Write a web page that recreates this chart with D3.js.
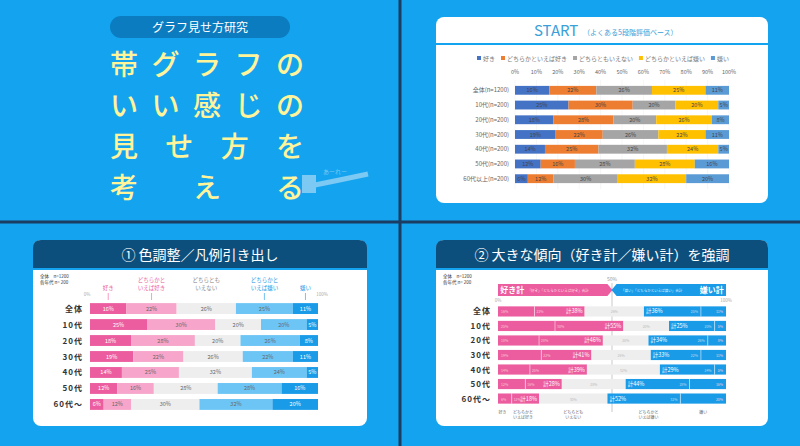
<!DOCTYPE html>
<html><head><meta charset="utf-8">
<script src="https://cdn.jsdelivr.net/npm/d3@7"></script>
<style>body{margin:0;background:#14a3ef}svg{display:block}text{font-family:"Noto Sans CJK JP",sans-serif}</style>
</head><body><svg id="c" width="800" height="446"></svg>
<script>
const categories = ["全体(n=1200)", "10代(n=200)", "20代(n=200)", "30代(n=200)", "40代(n=200)", "50代(n=200)", "60代以上(n=200)"];
const shortCats = ["全体", "10代", "20代", "30代", "40代", "50代", "60代～"];
const seriesNames = ["好き", "どちらかといえば好き", "どちらともいえない", "どちらかといえば嫌い", "嫌い"];
const values = [
  [16, 22, 26, 25, 11],
  [25, 30, 20, 20, 5],
  [18, 28, 20, 26, 8],
  [19, 22, 26, 22, 11],
  [14, 25, 32, 24, 5],
  [12, 16, 28, 28, 16],
  [6, 12, 30, 32, 20]
];
const ticks = [0, 10, 20, 30, 40, 50, 60, 70, 80, 90, 100];
const footAt = [2, 11, 33, 66, 90];

const svg = d3.select("#c");
const navy = "#0d4f7c";
svg.append("rect").attr("width", 800).attr("height", 446).attr("fill", "#14a3ef");
svg.append("line").attr("x1", 400).attr("x2", 400).attr("y1", 0).attr("y2", 446).attr("stroke", "#1b3d63").attr("stroke-width", 3);
svg.append("line").attr("x1", 0).attr("x2", 800).attr("y1", 222).attr("y2", 222).attr("stroke", "#1b3d63").attr("stroke-width", 3);

const stackRows = values.map(v => { let s = 0; return v.map(d => { const r = [s, s + d]; s += d; return r; }); });

// ---- top-left title
const tl = svg.append("g");
tl.append("rect").attr("x", 110).attr("y", 16).attr("width", 180).attr("height", 22).attr("rx", 11).attr("fill", "#0b7cc0");
tl.append("text").attr("x", 200).attr("y", 32).attr("text-anchor", "middle").attr("fill", "#fff").attr("font-size", 12).text("グラフ見せ方研究");
const titleLines = ["帯グラフの", "いい感じの", "見せ方を", "考える"];
const spacing = [[0, 1, 2, 3, 4], [0, 1, 2, 3, 4], [0, 1.33, 2.67, 4], [0, 2, 4]];
titleLines.forEach((l, i) => {
  [...l].forEach((ch, j) => {
    tl.append("text").attr("x", 124 + spacing[i][j] * 41.5).attr("y", 75 + i * 41)
      .attr("text-anchor", "middle").attr("fill", "#fff49a").attr("font-size", 28).attr("font-weight", 500).text(ch);
  });
});
tl.append("path").attr("d", "M310,186 q30,-6 58,-12").attr("stroke", "#7cc9f3").attr("stroke-width", 5).attr("fill", "none");
tl.append("rect").attr("x", 302).attr("y", 175).attr("width", 14).attr("height", 18).attr("fill", "#7cc9f3");
tl.append("text").attr("x", 323).attr("y", 174).attr("fill", "#7cc9f3").attr("font-size", 6).text("あーれー");

// ---- card helper
function card(x, y, w, h, title, dark) {
  const g = svg.append("g");
  g.append("rect").attr("x", x).attr("y", y).attr("width", w).attr("height", h).attr("rx", 8).attr("fill", "#fff");
  if (dark) {
    g.append("path").attr("d", `M${x},${y + 28} v-20 q0,-8 8,-8 h${w - 16} q8,0 8,8 v20 z`).attr("fill", navy);
    g.append("text").attr("x", x + w / 2).attr("y", y + 20).attr("text-anchor", "middle").attr("fill", "#fff").attr("font-size", 14).text(title);
    g.append("rect").attr("x", x).attr("y", y + 28).attr("width", w).attr("height", 2).attr("fill", "#14a3ef");
  }
  return g;
}

// ---- top-right START
const tr = card(436, 17, 332, 186, "", false);
tr.append("text").attr("x", 534).attr("y", 36).attr("fill", "#3aa0d8").attr("font-size", 15).text("START");
tr.append("text").attr("x", 583).attr("y", 35).attr("fill", "#3aa0d8").attr("font-size", 7).text("（よくある5段階評価ベース）");
tr.append("rect").attr("x", 436).attr("y", 43).attr("width", 332).attr("height", 2).attr("fill", "#14a3ef");
const cTR = ["#4472c4", "#ed7d31", "#a5a5a5", "#ffc000", "#5b9bd5"];
const xTR = d3.scaleLinear().domain([0, 100]).range([515, 729]);
const yTR = d3.scaleBand().domain(categories).range([80, 189]).padding(0.4);
let lx = 477;
seriesNames.forEach((n, i) => {
  tr.append("rect").attr("x", lx).attr("y", 56).attr("width", 4).attr("height", 4).attr("fill", cTR[i]);
  const t = tr.append("text").attr("x", lx + 6).attr("y", 61).attr("font-size", 6).attr("fill", "#777").text(n);
  lx += t.node().getComputedTextLength() + 12;
});
tr.append("g").selectAll("text").data(ticks).join("text").attr("x", d => xTR(d)).attr("y", 74)
  .attr("text-anchor", "middle").attr("font-size", 5.5).attr("fill", "#666").text(d => d + "%");
tr.append("g").selectAll("line").data(ticks).join("line").attr("x1", d => xTR(d)).attr("x2", d => xTR(d))
  .attr("y1", 80).attr("y2", 189).attr("stroke", "#eee").attr("stroke-width", 0.5);
categories.forEach((c, r) => {
  tr.append("text").attr("x", 509).attr("y", yTR(c) + yTR.bandwidth() / 2 + 2).attr("text-anchor", "end")
    .attr("font-size", 6).attr("fill", "#666").text(c);
  stackRows[r].forEach((s, i) => {
    tr.append("rect").attr("x", xTR(s[0])).attr("y", yTR(c)).attr("width", xTR(s[1]) - xTR(s[0])).attr("height", yTR.bandwidth()).attr("fill", cTR[i]);
    tr.append("text").attr("x", (xTR(s[0]) + xTR(s[1])) / 2).attr("y", yTR(c) + yTR.bandwidth() / 2 + 2)
      .attr("text-anchor", "middle").attr("font-size", 5.5).attr("fill", "#444").text(values[r][i] + "%");
  });
});

// ---- bottom-left
const cBL = ["#ec5d9f", "#f7a5ca", "#eeeeee", "#6dc5f6", "#1a9be8"];
const lblCol = ["#ec5d9f", "#ec5d9f", "#888", "#1a9be8", "#1a9be8"];
const bl = card(33, 240, 334, 186, "① 色調整／凡例引き出し", true);
const xBL = d3.scaleLinear().domain([0, 100]).range([90, 318]);
const yBL = d3.scaleBand().domain(shortCats).range([298, 415]).padding(0.32);
bl.append("text").attr("x", 40).attr("y", 278).attr("font-size", 4.5).attr("fill", "#333").text("全体　n=1200");
bl.append("text").attr("x", 40).attr("y", 284).attr("font-size", 4.5).attr("fill", "#333").text("各年代 n= 200");
bl.append("text").attr("x", 87).attr("y", 296).attr("text-anchor", "middle").attr("font-size", 4.5).attr("fill", "#aaa").text("0%");
bl.append("text").attr("x", 322).attr("y", 296).attr("text-anchor", "middle").attr("font-size", 4.5).attr("fill", "#aaa").text("100%");
const blLabels = [["好き"], ["どちらかと", "いえば好き"], ["どちらとも", "いえない"], ["どちらかと", "いえば嫌い"], ["嫌い"]];
stackRows[0].forEach((s, i) => {
  const cx = (xBL(s[0]) + xBL(s[1])) / 2;
  const lines = blLabels[i];
  lines.forEach((l, k) => bl.append("text").attr("x", cx).attr("y", 290 - (lines.length - 1 - k) * 8)
    .attr("text-anchor", "middle").attr("font-size", 5.5).attr("fill", lblCol[i]).text(l));
  if (i !== 2) bl.append("line").attr("x1", cx).attr("x2", cx).attr("y1", 293).attr("y2", 300).attr("stroke", lblCol[i]).attr("stroke-width", 0.6);
});
shortCats.forEach((c, r) => {
  bl.append("text").attr("x", 83).attr("y", yBL(c) + yBL.bandwidth() / 2 + 3).attr("text-anchor", "end")
    .attr("font-size", 8).attr("font-weight", 700).attr("fill", "#333").attr("letter-spacing", 1).text(c);
  stackRows[r].forEach((s, i) => {
    bl.append("rect").attr("x", xBL(s[0])).attr("y", yBL(c)).attr("width", xBL(s[1]) - xBL(s[0])).attr("height", yBL.bandwidth()).attr("fill", cBL[i]);
    bl.append("text").attr("x", (xBL(s[0]) + xBL(s[1])) / 2).attr("y", yBL(c) + yBL.bandwidth() / 2 + 2)
      .attr("text-anchor", "middle").attr("font-size", 5.5).attr("fill", i === 0 || i === 4 ? "#fff" : "#666").text(values[r][i] + "%");
  });
});

// ---- bottom-right
const cBR = ["#ec5d9f", "#ec5d9f", "#eeeeee", "#1a9be8", "#1a9be8"];
const br = card(436, 240, 332, 186, "② 大きな傾向（好き計／嫌い計）を強調", true);
const xBR = d3.scaleLinear().domain([0, 100]).range([498, 726]);
const yBR = d3.scaleBand().domain(shortCats).range([302, 408]).padding(0.3);
br.append("text").attr("x", 443).attr("y", 278).attr("font-size", 4.5).attr("fill", "#333").text("全体　n=1200");
br.append("text").attr("x", 443).attr("y", 284).attr("font-size", 4.5).attr("fill", "#333").text("各年代 n= 200");
br.append("line").attr("x1", xBR(50)).attr("x2", xBR(50)).attr("y1", 283).attr("y2", 412).attr("stroke", "#bbb").attr("stroke-width", 0.8);
br.append("text").attr("x", xBR(50)).attr("y", 281).attr("text-anchor", "middle").attr("font-size", 5).attr("fill", "#999").text("50%");
br.append("path").attr("d", `M${xBR(0)},284 H${xBR(48)} l5,6 l-5,6 H${xBR(0)} z`).attr("fill", "#ec5d9f");
br.append("path").attr("d", `M${xBR(100)},284 H${xBR(52)} l-5,6 l5,6 H${xBR(100)} z`).attr("fill", "#1a9be8");
br.append("text").attr("x", xBR(1)).attr("y", 293).attr("font-size", 8).attr("fill", "#fff").attr("font-weight", 700).text("好き計");
br.append("text").attr("x", xBR(13)).attr("y", 292).attr("font-size", 3.5).attr("fill", "#fde").text("「好き」「どちらかといえば好き」合計");
br.append("text").attr("x", xBR(99)).attr("y", 293).attr("text-anchor", "end").attr("font-size", 8).attr("fill", "#fff").attr("font-weight", 700).text("嫌い計");
br.append("text").attr("x", xBR(54)).attr("y", 292).attr("font-size", 3.5).attr("fill", "#def").text("「嫌い」「どちらかといえば嫌い」合計");
br.append("text").attr("x", xBR(0)).attr("y", 302).attr("text-anchor", "middle").attr("font-size", 4.5).attr("fill", "#aaa").text("0%");
br.append("text").attr("x", xBR(100)).attr("y", 302).attr("text-anchor", "middle").attr("font-size", 4.5).attr("fill", "#aaa").text("100%");
shortCats.forEach((c, r) => {
  const yc = yBR(c) + yBR.bandwidth() / 2 + 2;
  br.append("text").attr("x", 491).attr("y", yc + 1).attr("text-anchor", "end")
    .attr("font-size", 8).attr("font-weight", 700).attr("fill", "#333").attr("letter-spacing", 1).text(c);
  stackRows[r].forEach((s, i) => {
    br.append("rect").attr("x", xBR(s[0])).attr("y", yBR(c)).attr("width", xBR(s[1]) - xBR(s[0])).attr("height", yBR.bandwidth()).attr("fill", cBR[i]);
    if (i === 1 || i === 4) br.append("line").attr("x1", xBR(s[0])).attr("x2", xBR(s[0])).attr("y1", yBR(c)).attr("y2", yBR(c) + yBR.bandwidth()).attr("stroke", "#fff").attr("stroke-width", 0.5);
    const isSum = i === 1 || i === 3;
    const tx = i === 1 ? xBR(s[1]) - 2 : i === 3 ? xBR(s[0]) + 2 : i === 2 ? (xBR(s[0]) + xBR(s[1])) / 2 : xBR(s[0]) + 3;
    const txt = i === 1 ? "計" + (values[r][0] + values[r][1]) + "%" : i === 3 ? "計" + (values[r][3] + values[r][4]) + "%" : values[r][i] + "%";
    br.append("text").attr("x", i === 4 ? xBR(s[1]) - 3 : tx).attr("y", yc)
      .attr("text-anchor", i === 1 || i === 4 ? "end" : i === 2 ? "middle" : "start")
      .attr("font-size", isSum ? 5.5 : 3.5).attr("fill", isSum ? "#fff" : i === 2 ? "#bbb" : "#f8c8dd").text(txt);
  });
  br.append("text").attr("x", xBR(stackRows[r][1][0]) + 2).attr("y", yc).attr("font-size", 3.5).attr("fill", "#f8c8dd").text(values[r][1] + "%");
  br.append("text").attr("x", xBR(stackRows[r][3][1]) - 3).attr("y", yc).attr("text-anchor", "end").attr("font-size", 3.5).attr("fill", "#bde").text(values[r][3] + "%");
});
const foot = [["好き"], ["どちらかと", "いえば好き"], ["どちらとも", "いえない"], ["どちらかと", "いえば嫌い"], ["嫌い"]];
footAt.forEach((p, i) => {
  foot[i].forEach((l, k) => br.append("text").attr("x", xBR(p)).attr("y", 414 + k * 5).attr("text-anchor", "middle").attr("font-size", 4).attr("fill", "#666").text(l));
});
</script></body></html>
